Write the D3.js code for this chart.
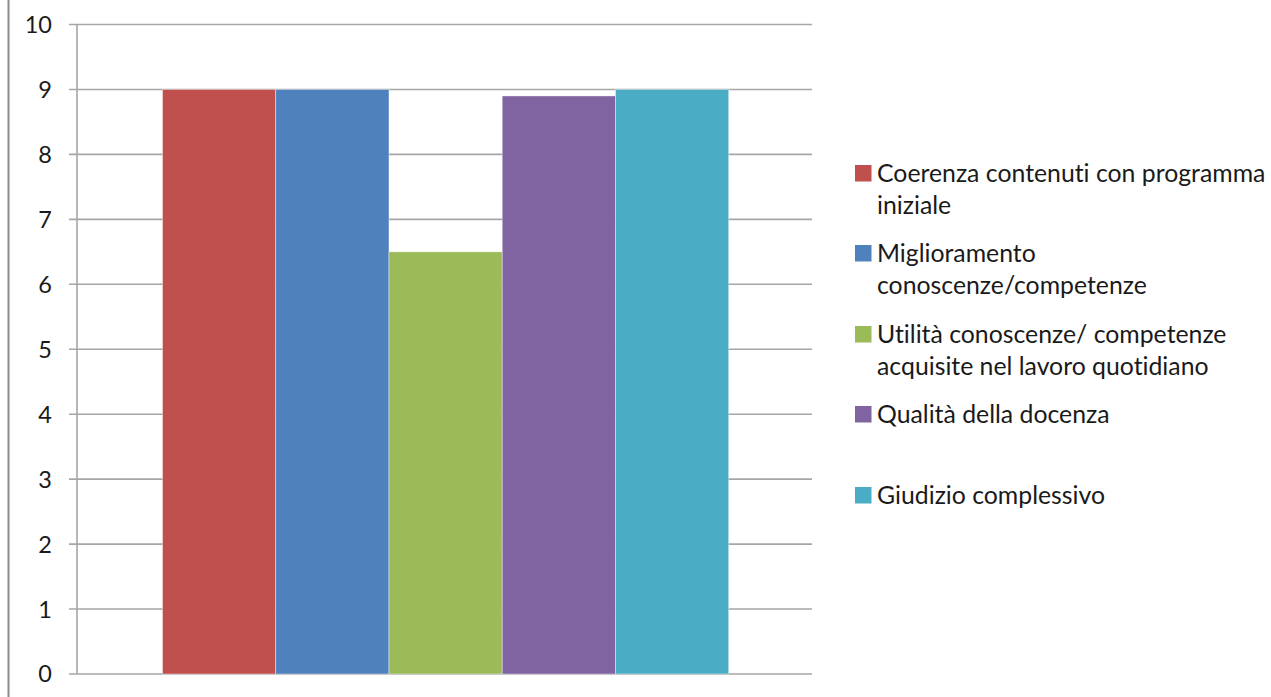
<!DOCTYPE html>
<html><head><meta charset="utf-8">
<script src="https://cdn.jsdelivr.net/npm/d3@7"></script>
<style>body{margin:0;background:#fff}svg{display:block}text{font-variant-ligatures:none}</style>
</head><body>
<svg id="c" width="1271" height="697"></svg>
<script>
const categories = ["Coerenza contenuti con programma iniziale","Miglioramento conoscenze/competenze","Utilità conoscenze/ competenze acquisite nel lavoro quotidiano","Qualità della docenza","Giudizio complessivo"];
const values = [9, 9, 6.5, 8.9, 9];
const colors = ["#C0504D","#4F81BD","#9BBB59","#8064A2","#4BACC6"];
const legendLines = [["Coerenza contenuti con programma","iniziale"],["Miglioramento","conoscenze/competenze"],["Utilità conoscenze/ competenze","acquisite nel lavoro quotidiano"],["Qualità della docenza"],["Giudizio complessivo"]];
const yTicks = [0,1,2,3,4,5,6,7,8,9,10];

const svg = d3.select("#c");
const font = "Lato, 'Open Sans', sans-serif";
svg.append("line").attr("x1",8.5).attr("x2",8.5).attr("y1",0).attr("y2",697).attr("stroke","#8c8c8c").attr("stroke-width",2);

const x0 = 77, x1 = 812, yTop = 24.5, yBot = 674;
const y = d3.scaleLinear().domain([0,10]).range([yBot,yTop]);
const x = d3.scaleBand().domain(categories).range([162.5,728.7]).padding(0);

const g = svg.append("g");
g.selectAll("line.grid").data(yTicks).join("line")
 .attr("x1",69).attr("x2",x1).attr("y1",d=>y(d)).attr("y2",d=>y(d))
 .attr("stroke","#a6a6a6").attr("stroke-width",1.6);
g.append("line").attr("x1",x0).attr("x2",x0).attr("y1",yTop).attr("y2",yBot).attr("stroke","#a6a6a6").attr("stroke-width",1.6);
g.selectAll("text.tick").data(yTicks).join("text")
 .attr("x",52).attr("y",d=>y(d)).attr("dy","0.36em").attr("text-anchor","end")
 .attr("font-family",font).attr("font-size",23.5).attr("fill","#1a1a1a").text(d=>d);
g.selectAll("rect.bar").data(categories).join("rect")
 .attr("x",d=>x(d)).attr("width",x.bandwidth())
 .attr("y",(d,i)=>y(values[i])).attr("height",(d,i)=>yBot-y(values[i]))
 .attr("fill",(d,i)=>colors[i]).attr("stroke","#ffffff").attr("stroke-opacity",0.5).attr("stroke-width",0.8);

const rowY = [173, 253, 334, 414, 495];
const lg = svg.append("g");
legendLines.forEach((lines,i)=>{
  lg.append("rect").attr("x",855).attr("y",rowY[i]-8).attr("width",16.5).attr("height",16.5).attr("fill",colors[i]);
  const t = lg.append("text").attr("font-family",font).attr("font-size",24.8).attr("fill","#1a1a1a");
  lines.forEach((l,j)=>{
    t.append("tspan").attr("x",877).attr("y",rowY[i]+j*32.5).attr("dy","0.36em").text(l);
  });
});
</script>
</body></html>
